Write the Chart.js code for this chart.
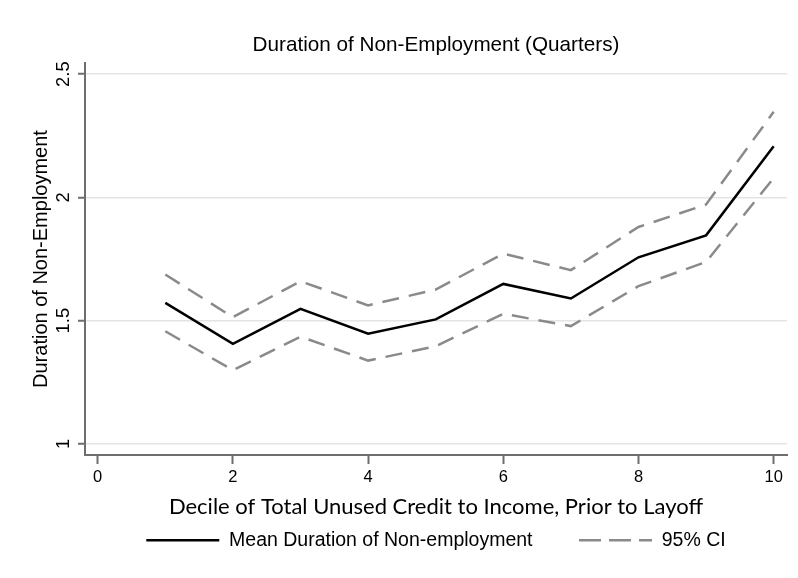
<!DOCTYPE html>
<html>
<head>
<meta charset="utf-8">
<script src="https://cdn.jsdelivr.net/npm/chart.js@4"></script>
<style>
  html, body { margin: 0; padding: 0; background: #ffffff; }
  #chart { display: block; }
</style>
</head>
<body>
<canvas id="chart" width="798" height="578"></canvas>
<script>
// Deciles of total unused credit to income, measured prior to layoff
const deciles = [1, 2, 3, 4, 5, 6, 7, 8, 9, 10];
// Mean duration of non-employment (quarters) by decile
const meanDuration = [1.572, 1.406, 1.548, 1.447, 1.505, 1.649, 1.590, 1.757, 1.846, 2.207];
// 95% confidence band
const ciUpper = [1.687, 1.514, 1.660, 1.562, 1.626, 1.772, 1.705, 1.880, 1.971, 2.347];
const ciLower = [1.457, 1.299, 1.435, 1.338, 1.396, 1.528, 1.478, 1.640, 1.738, 2.079];
// Axis ticks and their labels
const xTickValues = [0, 2, 4, 6, 8, 10];
const xTickLabels = ['0', '2', '4', '6', '8', '10'];
const yTickValues = [1, 1.5, 2, 2.5];
const yTickLabels = ['1', '1.5', '2', '2.5'];

const AXIS_GREY = '#6e6e6e';
const GRID_GREY = '#e4e4e4';
const CI_GREY = '#8a8a8a';
const SANS = "'Liberation Sans', Arial, Helvetica, sans-serif";
const CI_DASH = [17, 10];
const LEGEND_DASH = [22, 8];

const toPoints = ys => deciles.map((x, i) => ({ x, y: ys[i] }));

// Legend entries: one per line style, drawn with the series' own stroke
const legendLabels = chart =>
  Chart.defaults.plugins.legend.labels.generateLabels(chart)
    .filter(item => item.datasetIndex !== 2)
    .map(item => {
      const ds = chart.data.datasets[item.datasetIndex];
      return Object.assign(item, {
        lineWidth: ds.borderWidth,
        strokeStyle: ds.borderColor,
        lineDash: ds.borderDash ? LEGEND_DASH : [],
        pointStyle: 'line'
      });
    });

new Chart(document.getElementById('chart'), {
  type: 'line',
  data: {
    datasets: [
      {
        label: 'Mean Duration of Non-employment',
        data: toPoints(meanDuration),
        borderColor: '#000000',
        backgroundColor: '#000000',
        borderWidth: 2.5,
        pointRadius: 0,
        tension: 0,
        order: 0
      },
      {
        label: '95% CI',
        data: toPoints(ciUpper),
        borderColor: CI_GREY,
        backgroundColor: CI_GREY,
        borderWidth: 2.5,
        borderDash: CI_DASH,
        pointRadius: 0,
        tension: 0,
        order: 1
      },
      {
        label: '95% CI',
        data: toPoints(ciLower),
        borderColor: CI_GREY,
        backgroundColor: CI_GREY,
        borderWidth: 2.5,
        borderDash: CI_DASH,
        pointRadius: 0,
        tension: 0,
        order: 2
      }
    ]
  },
  options: {
    responsive: false,
    animation: false,
    devicePixelRatio: 1,
    layout: { padding: { left: 0, right: 11, top: 0, bottom: 18 } },
    plugins: {
      title: {
        display: true,
        text: 'Duration of Non-Employment (Quarters)',
        fullSize: false,
        color: '#000000',
        font: { family: SANS, size: 20.7, weight: 'normal' },
        padding: { top: 33, bottom: 5.2 }
      },
      legend: {
        position: 'bottom',
        fullSize: false,
        labels: {
          generateLabels: legendLabels,
          usePointStyle: true,
          pointStyle: 'line',
          pointStyleWidth: 73,
          color: '#000000',
          font: { family: SANS, size: 19.5 },
          padding: 46.5
        }
      },
      tooltip: { enabled: false }
    },
    scales: {
      x: {
        type: 'linear',
        min: -0.188,
        max: 10.197,
        afterBuildTicks: s => { s.ticks = xTickValues.map(v => ({ value: v })); },
        afterFit: s => { s.height = 29; },
        border: { display: true, color: AXIS_GREY, width: 2 },
        grid: { drawOnChartArea: false, drawTicks: true, tickLength: 9, tickColor: AXIS_GREY, tickWidth: 2 },
        ticks: {
          color: '#000000',
          font: { family: SANS, size: 16.5 },
          padding: 3.5,
          maxRotation: 0,
          autoSkip: false,
          callback: (v, i) => xTickLabels[i]
        },
        title: {
          display: true,
          text: 'Decile of Total Unused Credit to Income, Prior to Layoff',
          color: '#000000',
          font: { family: "Lato, 'Open Sans', sans-serif", size: 22 },
          padding: { top: 0, bottom: -36.2 }
        }
      },
      y: {
        type: 'linear',
        min: 0.955,
        max: 2.545,
        afterBuildTicks: s => { s.ticks = yTickValues.map(v => ({ value: v })); },
        afterFit: s => { s.width = 85; },
        border: { display: true, color: AXIS_GREY, width: 2 },
        grid: { color: GRID_GREY, lineWidth: 1.5, drawTicks: true, tickLength: 7, tickColor: AXIS_GREY, tickWidth: 2 },
        ticks: {
          color: '#000000',
          font: { family: SANS, size: 18.4 },
          padding: 1,
          minRotation: 90,
          maxRotation: 90,
          crossAlign: 'center',
          callback: (v, i) => yTickLabels[i]
        },
        title: {
          display: true,
          text: 'Duration of Non-Employment',
          color: '#000000',
          font: { family: SANS, size: 20 },
          padding: { top: 29, bottom: 0 }
        }
      }
    }
  }
});
</script>
</body>
</html>
